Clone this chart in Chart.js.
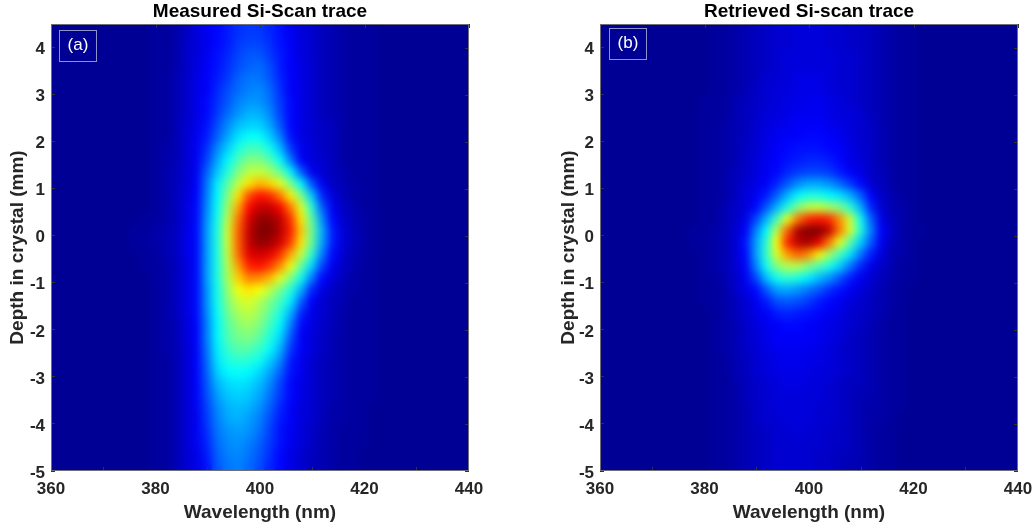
<!DOCTYPE html>
<html>
<head>
<meta charset="utf-8">
<title>Si-Scan traces</title>
<script src="https://cdn.jsdelivr.net/npm/chart.js@4"></script>
<style>
  body { margin: 0; background: #fff; overflow: hidden; }
  canvas { position: absolute; top: 0; }
  #measured-chart { left: 0; }
  #retrieved-chart { left: 549px; }
</style>
</head>
<body>
<canvas id="measured-chart" width="500" height="527"></canvas>
<canvas id="retrieved-chart" width="500" height="527"></canvas>
<script>
const wavelengths = [376, 378, 380, 382, 384, 386, 388, 390, 392, 394, 396, 398, 400, 402, 404, 406, 408, 410, 412, 414, 416, 418, 420, 422, 424];
const depthEdges = [4.5, 4.25, 4, 3.75, 3.5, 3.25, 3, 2.75, 2.5, 2.25, 2, 1.75, 1.5, 1.25, 1, 0.75, 0.5, 0.25, 0, -0.25, -0.5, -0.75, -1, -1.25, -1.5, -1.75, -2, -2.25, -2.5, -2.75, -3, -3.25, -3.5, -3.75, -4, -4.25, -4.5, -4.75, -5];
const xTicks = [360, 380, 400, 420, 440];
const yTicks = [-5, -4, -3, -2, -1, 0, 1, 2, 3, 4];

// one row per depth band, top to bottom, intensity 0-100
const measured = [
  [2,2,3,3,4,6,9,11,13,15,17,18,18,16,14,11,9,8,6,5,4,3,3,3,2],
  [2,2,3,3,4,7,9,11,13,15,18,19,19,17,14,12,9,8,6,5,4,3,3,3,2],
  [2,2,3,3,4,7,9,11,14,16,19,21,21,18,15,12,9,8,6,5,4,3,3,3,2],
  [2,2,3,3,4,7,9,12,14,17,20,22,23,20,15,12,10,8,6,5,4,3,3,3,2],
  [2,2,3,3,5,7,10,12,15,18,22,24,24,21,16,12,10,8,6,5,4,3,3,3,2],
  [2,2,3,3,5,7,10,12,16,20,23,25,26,23,17,12,10,8,6,5,4,3,3,3,2],
  [2,2,3,3,5,7,10,13,17,21,25,27,27,24,18,13,10,8,6,5,4,3,3,3,2],
  [2,2,3,3,5,7,10,13,18,23,27,30,30,26,19,13,10,8,6,5,4,3,3,3,2],
  [2,2,3,3,5,8,10,14,20,26,31,33,33,29,21,13,10,8,7,6,4,3,3,3,2],
  [2,2,3,3,5,8,11,15,22,29,35,38,38,33,25,14,10,8,7,6,4,3,3,3,2],
  [2,2,3,4,5,8,11,17,26,33,40,44,44,39,31,18,11,9,7,6,4,3,3,3,2],
  [2,2,3,4,5,8,11,19,29,37,45,50,50,46,38,25,12,9,8,6,4,3,3,3,2],
  [2,2,3,4,6,8,11,22,32,41,50,56,57,54,48,37,22,11,8,6,5,3,3,3,2],
  [2,2,3,4,6,8,12,24,36,46,56,65,70,67,60,50,37,21,11,7,5,4,3,3,2],
  [2,2,3,4,6,9,12,25,37,50,65,80,86,84,76,64,50,33,16,9,6,4,3,3,2],
  [2,2,3,4,6,9,13,26,38,53,71,87,93,93,88,76,60,42,22,11,7,5,3,3,2],
  [2,3,3,4,6,9,13,27,39,56,76,91,98,98,94,83,65,47,27,13,8,5,4,3,2],
  [3,3,4,5,6,10,13,28,40,58,78,93,100,100,95,85,68,49,30,15,9,6,4,3,2],
  [3,3,4,5,6,10,13,28,40,58,78,93,98,97,92,82,65,48,29,15,9,6,4,3,2],
  [2,3,3,5,6,10,13,28,40,57,77,90,92,90,83,71,57,42,25,13,8,5,4,3,2],
  [2,3,3,4,6,9,13,28,40,55,72,84,86,82,74,61,47,34,19,11,7,5,3,3,2],
  [2,2,3,4,6,9,13,28,40,54,67,75,74,70,60,50,39,25,13,9,6,4,3,3,2],
  [2,2,3,4,6,9,13,27,39,52,61,65,62,56,49,41,30,16,10,7,5,4,3,3,2],
  [2,2,3,4,6,9,13,27,39,50,57,59,55,50,44,36,22,12,8,6,5,3,3,3,2],
  [2,2,3,4,6,9,13,26,38,48,54,56,53,47,40,30,16,10,8,6,4,3,3,3,2],
  [2,2,3,4,5,9,12,25,37,46,51,53,50,44,37,25,13,10,7,6,4,3,3,3,2],
  [2,2,3,4,5,9,12,25,37,45,49,50,47,41,34,21,12,9,7,5,4,3,3,3,2],
  [2,2,3,4,5,8,12,24,36,43,46,46,43,38,30,18,12,9,7,5,4,3,3,3,2],
  [2,2,3,3,5,8,12,23,35,40,42,41,39,33,26,15,11,8,6,5,4,3,3,3,2],
  [2,2,3,3,5,8,12,22,33,37,38,37,34,29,22,14,11,8,6,5,4,3,3,3,2],
  [2,2,3,3,5,8,12,21,30,34,35,34,31,26,19,13,10,8,6,5,4,3,3,3,2],
  [2,2,3,3,5,8,12,20,28,32,33,32,29,24,18,13,10,8,6,5,4,3,3,3,2],
  [2,2,3,3,5,8,11,19,26,30,31,30,27,22,16,12,9,8,6,4,4,3,3,2,2],
  [2,2,3,3,5,8,11,18,25,29,30,28,25,20,15,12,9,8,6,4,4,3,3,2,2],
  [2,2,3,3,5,8,11,17,24,27,28,27,24,19,14,11,9,7,5,4,3,3,3,2,2],
  [2,2,3,3,5,8,11,16,23,26,27,25,22,18,14,11,9,7,5,4,3,3,3,2,2],
  [2,2,3,3,5,8,10,15,22,25,26,24,21,17,13,10,8,6,5,4,3,3,2,2,2],
  [2,2,3,3,5,8,10,14,21,24,25,23,20,16,13,10,8,6,5,4,3,3,2,2,2]
];

const retrieved = [
  [2,2,2,3,3,4,5,6,7,8,8,9,9,9,8,8,7,7,6,5,4,3,3,2,2],
  [2,2,2,3,3,4,5,6,7,8,8,9,9,9,8,8,7,7,6,5,4,3,3,2,2],
  [2,2,2,3,3,4,5,6,7,8,9,9,9,9,9,8,8,7,6,5,4,3,3,2,2],
  [2,2,2,3,3,4,5,6,7,8,9,9,9,9,9,8,8,7,6,5,4,3,3,2,2],
  [2,2,2,3,3,4,5,6,8,8,9,10,10,10,9,8,8,7,6,5,4,3,3,2,2],
  [2,2,2,3,3,4,5,7,8,9,9,10,10,10,9,8,8,7,6,5,4,3,3,2,2],
  [2,2,3,3,3,5,6,7,8,9,10,10,11,11,10,9,8,7,6,5,4,3,3,2,2],
  [2,2,3,3,3,5,6,7,9,9,10,11,11,11,10,9,9,8,6,5,4,3,3,2,2],
  [2,2,3,3,4,5,6,8,9,10,11,12,12,12,11,10,9,8,7,5,4,3,3,2,2],
  [2,2,3,3,4,5,6,8,10,11,12,12,13,13,12,11,9,8,7,5,4,3,3,2,2],
  [2,2,3,3,4,5,7,8,10,12,13,14,14,14,13,12,10,8,7,5,4,3,3,2,2],
  [2,2,3,3,4,5,7,9,11,12,14,15,16,16,15,13,10,9,7,5,4,3,3,2,2],
  [2,2,3,3,4,6,7,9,11,13,16,18,19,19,18,15,12,10,7,6,4,3,3,2,2],
  [2,2,3,3,4,6,8,10,12,16,21,26,29,29,27,23,18,13,8,6,4,3,3,2,2],
  [2,2,3,3,4,6,9,11,15,22,30,37,40,40,37,35,30,22,12,7,5,3,3,2,2],
  [2,2,3,3,5,7,9,13,21,30,40,50,56,57,54,50,42,30,16,8,5,4,3,2,2],
  [2,2,3,3,5,7,10,19,30,44,60,76,84,86,84,74,58,39,22,10,6,4,3,2,2],
  [2,3,3,4,5,8,12,25,37,56,78,96,100,100,94,76,59,41,25,12,7,4,3,3,2],
  [2,3,3,4,5,8,14,28,41,62,84,94,96,90,76,60,46,33,21,11,6,4,3,2,2],
  [2,2,3,4,5,8,13,28,42,59,72,78,74,64,53,44,35,24,15,9,5,4,3,2,2],
  [2,2,3,4,5,8,12,25,39,50,55,55,50,45,40,33,24,16,10,7,5,3,3,2,2],
  [2,2,3,3,5,7,11,19,31,39,42,40,36,31,27,21,15,11,8,6,4,3,3,2,2],
  [2,2,3,3,4,7,10,13,21,28,29,27,24,21,17,14,11,9,7,5,4,3,2,2,2],
  [2,2,3,3,4,6,8,11,15,20,21,20,18,15,13,11,9,8,6,5,4,3,2,2,2],
  [2,2,2,3,4,6,8,10,12,15,16,15,14,13,11,10,8,7,6,5,3,3,2,2,2],
  [2,2,2,3,4,5,7,9,11,12,13,13,12,11,10,9,8,7,5,4,3,3,2,2,2],
  [2,2,2,3,4,5,7,9,10,12,12,12,12,11,10,9,7,6,5,4,3,3,2,2,2],
  [2,2,2,3,4,5,7,8,10,11,11,11,11,10,9,8,7,6,5,4,3,3,2,2,2],
  [2,2,2,3,3,5,6,8,9,10,11,11,10,10,9,8,7,6,5,4,3,3,2,2,2],
  [2,2,2,3,3,5,6,8,9,10,10,10,10,9,9,8,7,6,5,4,3,3,2,2,2],
  [2,2,2,3,3,4,6,7,8,9,10,10,9,9,8,7,6,6,5,4,3,3,2,2,2],
  [2,2,2,3,3,4,6,7,8,9,9,9,9,9,8,7,6,5,5,4,3,3,2,2,2],
  [2,2,2,3,3,4,5,7,8,9,9,9,9,8,8,7,6,5,4,4,3,3,2,2,2],
  [2,2,2,3,3,4,5,7,8,8,9,9,9,8,8,7,6,5,4,4,3,2,2,2,2],
  [2,2,2,3,3,4,5,6,7,8,8,9,8,8,7,7,6,5,4,3,3,2,2,2,2],
  [2,2,2,3,3,4,5,6,7,8,8,8,8,8,7,7,6,5,4,3,3,2,2,2,2],
  [2,2,2,3,3,4,5,6,7,8,8,8,8,7,7,6,6,5,4,3,3,2,2,2,2],
  [2,2,2,3,3,4,5,6,7,8,8,8,8,7,7,6,5,5,4,3,3,2,2,2,2]
];

const fontFamily = '"Liberation Sans", Arial, sans-serif';
const textColor = '#262626';

function jet(v) {
    const t = v / 100;
    const c = (a) => Math.round(255 * Math.max(0, Math.min(1, a)));
    const r = c(Math.min(4 * t - 1.5, -4 * t + 4.5));
    const g = c(Math.min(4 * t - 0.5, -4 * t + 3.5));
    const b = c(Math.min(4 * t + 0.5, -4 * t + 2.5));
    return `rgb(${r},${g},${b})`;
}

// background behind the cells, soften the cell edges, frame, top/right ticks and the (a)/(b) box
const tracePlugin = {
    id: 'trace',
    beforeDatasetsDraw(chart) {
        const { ctx, chartArea: a } = chart;
        ctx.save();
        ctx.fillStyle = jet(2);
        ctx.fillRect(a.left, a.top, a.width, a.height);
        ctx.restore();
    },
    afterDatasetsDraw(chart) {
        const { ctx, chartArea: a, canvas } = chart;
        ctx.save();
        ctx.beginPath();
        ctx.rect(a.left, a.top, a.width, a.height);
        ctx.clip();
        ctx.filter = 'blur(4.5px)';
        ctx.drawImage(canvas, a.left, a.top, a.width, a.height, a.left, a.top, a.width, a.height);
        ctx.restore();
    },
    afterDraw(chart, args, opts) {
        const { ctx, chartArea: a, scales } = chart;
        ctx.save();
        ctx.strokeStyle = '#333';
        ctx.lineWidth = 1;
        ctx.beginPath();
        xTicks.forEach((v) => {
            const px = Math.round(scales.x.getPixelForValue(v)) + 0.5;
            ctx.moveTo(px, a.top);
            ctx.lineTo(px, a.top + 4);
        });
        yTicks.forEach((v) => {
            const py = Math.round(scales.y.getPixelForValue(v)) + 0.5;
            ctx.moveTo(a.right, py);
            ctx.lineTo(a.right - 4, py);
        });
        ctx.stroke();
        ctx.strokeStyle = '#6e6e78';
        ctx.strokeRect(a.left + 0.5, a.top + 0.5, a.width - 1, a.height - 1);
        ctx.strokeStyle = '#8f93c8';
        ctx.strokeRect(opts.boxX, opts.boxY, 37, 31);
        ctx.fillStyle = '#fff';
        ctx.font = `17px ${fontFamily}`;
        ctx.textAlign = 'center';
        ctx.textBaseline = 'middle';
        ctx.fillText(opts.tag, opts.boxX + 18.5, opts.boxY + 15);
        ctx.restore();
    }
};

function makeDatasets(rows) {
    return rows.map((row, i) => ({
        data: wavelengths.map((w) => ({ x: w, y: [depthEdges[i + 1], depthEdges[i]] })),
        backgroundColor: row.map(jet),
        borderWidth: 0,
        inflateAmount: 1,
        barPercentage: 1,
        categoryPercentage: 1,
        grouped: false
    }));
}

function tickGrid() {
    return { drawOnChartArea: false, tickLength: -4, color: '#333', z: 1 };
}

function makeChart(id, rows, title, tag, boxX, boxY, yTitlePad) {
    return new Chart(document.getElementById(id), {
        type: 'bar',
        data: { datasets: makeDatasets(rows) },
        plugins: [tracePlugin],
        options: {
            responsive: false,
            animation: false,
            layout: { padding: { right: 31 } },
            plugins: {
                legend: { display: false },
                tooltip: { enabled: false },
                title: {
                    display: true,
                    text: title,
                    fullSize: false,
                    color: '#000',
                    font: { family: fontFamily, size: 19, weight: 'bold', lineHeight: 1.2 },
                    padding: { top: 0, bottom: 1.2 }
                },
                trace: { tag, boxX, boxY }
            },
            scales: {
                x: {
                    type: 'linear',
                    min: 360,
                    max: 440,
                    offset: false,
                    grid: tickGrid(),
                    border: { display: false },
                    afterBuildTicks: (s) => { s.ticks = xTicks.map((value) => ({ value })); },
                    afterFit: (s) => { s.height = 56; },
                    ticks: {
                        color: textColor,
                        padding: 12,
                        autoSkip: false,
                        maxRotation: 0,
                        font: { family: fontFamily, size: 17, weight: 'bold' }
                    },
                    title: {
                        display: true,
                        text: 'Wavelength (nm)',
                        color: textColor,
                        padding: { top: 0, bottom: 3 },
                        font: { family: fontFamily, size: 19, weight: 'bold' }
                    }
                },
                y: {
                    min: -5,
                    max: 4.5,
                    grid: tickGrid(),
                    border: { display: false },
                    afterBuildTicks: (s) => { s.ticks = yTicks.map((value) => ({ value })); },
                    afterFit: (s) => { s.width = 51; },
                    ticks: {
                        color: textColor,
                        padding: 10,
                        labelOffset: 2,
                        autoSkip: false,
                        font: { family: fontFamily, size: 17, weight: 'bold' }
                    },
                    title: {
                        display: true,
                        text: 'Depth in crystal (mm)',
                        color: textColor,
                        padding: { top: yTitlePad, bottom: 0 },
                        font: { family: fontFamily, size: 19, weight: 'bold' }
                    }
                }
            }
        }
    });
}

makeChart('measured-chart', measured, 'Measured Si-Scan trace', '(a)', 59.5, 30.5, 6);
makeChart('retrieved-chart', retrieved, 'Retrieved Si-scan trace', '(b)', 60.5, 28.5, 8);
</script>
</body>
</html>
